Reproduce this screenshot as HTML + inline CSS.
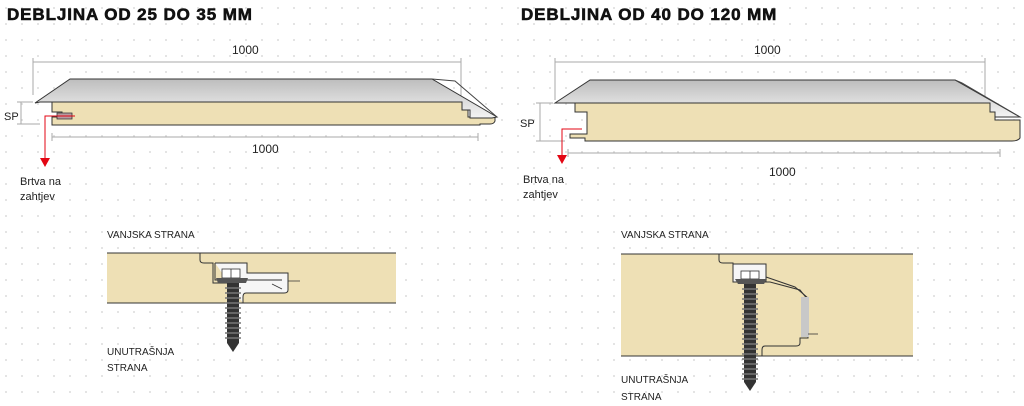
<!DOCTYPE html>
<html><head><meta charset="utf-8"><style>
html,body{margin:0;padding:0;background:#fff;}
svg{display:block;font-family:"Liberation Sans",sans-serif;}
</style></head><body>
<svg width="1024" height="406" viewBox="0 0 1024 406" xmlns="http://www.w3.org/2000/svg">
<defs>
<pattern id="dots" width="16" height="16" patternUnits="userSpaceOnUse" x="4" y="6">
<circle cx="2" cy="2" r="1" fill="#dcdcdc"/>
</pattern>
<linearGradient id="g" x1="0" y1="0" x2="0" y2="1">
<stop offset="0" stop-color="#bdbdbd"/><stop offset="1" stop-color="#f4f4f4"/>
</linearGradient>
</defs>
<rect width="1024" height="406" fill="#fff"/>
<rect width="1024" height="406" fill="url(#dots)"/>

<text x="7" y="20" font-size="17" font-weight="bold" letter-spacing="0.9" fill="#111" stroke="#111" stroke-width="0.6">DEBLJINA OD 25 DO 35 MM</text>
<text x="521" y="20" font-size="17" font-weight="bold" letter-spacing="0.9" fill="#111" stroke="#111" stroke-width="0.6">DEBLJINA OD 40 DO 120 MM</text>

<!-- LEFT PANEL -->
<g stroke="#aaa" stroke-width="1" fill="none">
<path d="M33,62 H461 M33,58 V95 M461,58 V100"/>
<path d="M52,137 H478 M52,133 V141 M478,133 V141"/>
<path d="M21,102 V124 M17,102 H33 M17,124 H40"/>
</g>
<text x="232" y="54" font-size="12" fill="#222">1000</text>
<text x="252" y="153" font-size="12" fill="#222">1000</text>
<text x="4" y="120" font-size="11" fill="#222">SP</text>
<path d="M52,102 H462 V110 H468 V117 H495 L495,121 Q494,124 490,124 H480 V125 H52 V117 H62 V112 H52 Z" fill="#eee0b5" stroke="#333" stroke-width="1"/>
<path d="M35,103 L70,79 H432 L497,117 L492,118 H470 V110 H462 V102 H40 Z" fill="url(#g)" stroke="#333" stroke-width="1"/>
<path d="M432,79 L455,81 L497,117" fill="none" stroke="#444" stroke-width="1"/>
<path d="M57,113 H72 V119 H57 Z" fill="#b89aa0" stroke="#333" stroke-width="0.8"/>
<path d="M75,116 H45 V160" fill="none" stroke="#e30613" stroke-width="1"/>
<path d="M40,158 H50 L45,167 Z" fill="#e30613"/>
<text x="20" y="185" font-size="11" fill="#222">Brtva na</text>
<text x="20" y="200" font-size="11" fill="#222">zahtjev</text>

<!-- RIGHT PANEL -->
<g stroke="#aaa" stroke-width="1" fill="none">
<path d="M555,62 H985 M555,58 V100 M985,58 V100"/>
<path d="M568,153 H1000 M568,149 V157 M1000,149 V157"/>
<path d="M540,103 V141 M536,103 H553 M536,141 H565"/>
</g>
<text x="754" y="54" font-size="12" fill="#222">1000</text>
<text x="769" y="176" font-size="12" fill="#222">1000</text>
<text x="520" y="127" font-size="11" fill="#222">SP</text>
<path d="M560,103 H990 V112 H995 V120 H1020 V138 Q1018,141 1012,141 H585 V138 H570 V134 H587 V112 H575 V103 Z" fill="#eee0b5" stroke="#333" stroke-width="1"/>
<path d="M555,103 L590,80 H955 L1020,117 H995 V112 H990 V103 Z" fill="url(#g)" stroke="#333" stroke-width="1"/>
<path d="M955,80 L962,83 L1020,117" fill="none" stroke="#444" stroke-width="1"/>
<path d="M582,129 H562 V156" fill="none" stroke="#e30613" stroke-width="1"/>
<path d="M557,155 H567 L562,164 Z" fill="#e30613"/>
<text x="523" y="183" font-size="11" fill="#222">Brtva na</text>
<text x="523" y="198" font-size="11" fill="#222">zahtjev</text>

<!-- BOTTOM LEFT DETAIL -->
<text x="107" y="238" font-size="10" fill="#222">VANJSKA STRANA</text>
<rect x="107" y="253" width="289" height="50" fill="#eee0b5"/>
<path d="M107,253 H396 M107,303 H396" stroke="#333" stroke-width="1"/>
<path d="M200,253 V260 Q200,263 204,263 H213 V283 H282" fill="none" stroke="#333" stroke-width="1"/>
<path d="M215,263 H247 V273 H288 V290 Q288,293 284,293 H246 Q243,293 243,297 V303" fill="#f6f6f6" stroke="#333" stroke-width="1"/>
<path d="M215,263 V280 H282" fill="none" stroke="#333" stroke-width="1"/>
<path d="M288,281 H300 M272,284 L282,289" stroke="#333" stroke-width="0.8"/>
<rect x="222" y="269" width="18" height="9" fill="#fff" stroke="#333" stroke-width="0.8"/>
<path d="M231,269 V278" stroke="#333" stroke-width="0.8"/>
<path d="M216,278 H248 L246,283 H218 Z" fill="#555"/>
<rect x="227" y="283" width="12" height="60" fill="#333"/>
<path d="M227,343 H239 L233,352 Z" fill="#333"/>
<path d="M225,288 h16 M225,293 h16 M225,298 h16 M225,303 h16 M225,308 h16 M225,313 h16 M225,318 h16 M225,323 h16 M225,328 h16 M225,333 h16 M225,338 h16" stroke="#777" stroke-width="1.5"/>
<text x="107" y="355" font-size="10" fill="#222">UNUTRAŠNJA</text>
<text x="107" y="371" font-size="10" fill="#222">STRANA</text>

<!-- BOTTOM RIGHT DETAIL -->
<text x="621" y="238" font-size="10" fill="#222">VANJSKA STRANA</text>
<rect x="621" y="254" width="292" height="102" fill="#eee0b5"/>
<path d="M621,254 H913 M621,356 H913" stroke="#333" stroke-width="1"/>
<path d="M719,254 V260 Q719,263 723,263 H733 V282 H770 L800,290 L808,300 V338 H800 V343 Q800,346 796,346 H765 Q762,346 762,350 V356" fill="none" stroke="#333" stroke-width="1"/>
<path d="M734,264 H766 V277 L795,287 L808,298" fill="none" stroke="#333" stroke-width="1"/>
<rect x="801" y="297" width="8" height="40" fill="#c8c8c8"/>
<path d="M808,334 H818" stroke="#333" stroke-width="0.8"/>
<path d="M733,264 H766 V282 H733 Z" fill="#f6f6f6" stroke="#333" stroke-width="1"/>
<rect x="741" y="271" width="18" height="8" fill="#fff" stroke="#333" stroke-width="0.8"/>
<path d="M750,271 V279" stroke="#333" stroke-width="0.8"/>
<path d="M735,279 H767 L764,284 H738 Z" fill="#555"/>
<rect x="744" y="284" width="12" height="98" fill="#333"/>
<path d="M744,382 H756 L750,391 Z" fill="#333"/>
<path d="M742,289 h16 M742,294 h16 M742,299 h16 M742,304 h16 M742,309 h16 M742,314 h16 M742,319 h16 M742,324 h16 M742,329 h16 M742,334 h16 M742,339 h16 M742,344 h16 M742,349 h16 M742,354 h16 M742,359 h16 M742,364 h16 M742,369 h16 M742,374 h16 M742,379 h16" stroke="#777" stroke-width="1.5"/>
<text x="621" y="383" font-size="10" fill="#222">UNUTRAŠNJA</text>
<text x="621" y="400" font-size="10" fill="#222">STRANA</text>
</svg>
</body></html>
